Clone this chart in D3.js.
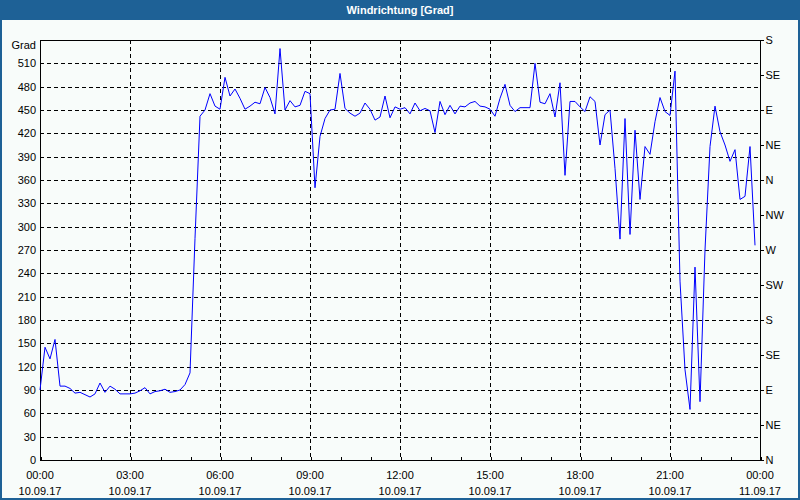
<!DOCTYPE html>
<html><head><meta charset="utf-8">
<script src="https://cdn.jsdelivr.net/npm/d3@7/dist/d3.min.js"></script>
<style>
html,body{margin:0;padding:0;background:#f8fcfa;}
svg{display:block;}
text{font-family:"Liberation Sans",Arial,sans-serif;font-size:11px;fill:#000;}
</style></head>
<body>
<svg id="c" width="800" height="500"></svg>
<script>
const title = "Windrichtung [Grad]";
const yUnit = "Grad";
const startTime = "2017-09-10T00:00:00";
const endTime = "2017-09-11T00:00:00";
const stepMinutes = 10;
const values = [90,145,130,155,95,95,92,86,87,84,81,85,99,87,95,91,85,85,85,86,89,93,85,88,89,91,87,88,90,97,
112,285,442,450,471,455,451,492,468,477,465,451,455,460,458,479,466,445,529,450,462,454,456,474,471,350,416,439,450,451,
497,452,446,442,446,459,451,437,441,468,440,454,451,453,445,459,449,452,449,421,461,444,456,445,455,454,459,461,455,454,
451,442,465,483,456,448,453,453,453,510,460,458,471,441,485,366,461,461,454,448,467,461,405,444,450,375,284,439,290,424,
335,403,393,435,466,448,443,500,230,116,65,248,75,270,403,455,422,405,384,399,335,339,403,276];
const yTicks = [0,30,60,90,120,150,180,210,240,270,300,330,360,390,420,450,480,510];
const dirTicks = [0,45,90,135,180,225,270,315,360,405,450,495,540];
const dirLabels = ["N","NE","E","SE","S","SW","W","NW","N","NE","E","SE","S"];
const yMax = 540;

const svg = d3.select("#c");
const W = 800, H = 500;
const m = {l:40, r:40, t:40, b:40};
const blue = "#1e6196";

// frame
svg.append("rect").attr("x",0).attr("y",0).attr("width",W).attr("height",H).attr("fill",blue);
svg.append("rect").attr("x",2).attr("y",20).attr("width",W-4).attr("height",H-22).attr("fill","#f8fcfa");
svg.append("text").attr("x",W/2).attr("y",14).attr("text-anchor","middle")
  .style("fill","#fff").style("font-weight","bold").text(title);

const parse = d3.isoParse;
const t0 = parse(startTime), t1 = parse(endTime);
const data = values.map((v,i)=>({t:new Date(t0.getTime()+i*stepMinutes*60000), v}));

const x = d3.scaleTime().domain([t0,t1]).range([m.l, W-m.r]);
const y = d3.scaleLinear().domain([0,yMax]).range([H-m.b, m.t]);

// grid
const g = svg.append("g").attr("shape-rendering","crispEdges");
g.selectAll(".hg").data(yTicks.filter(d=>d>0)).join("line")
  .attr("x1",m.l).attr("x2",W-m.r).attr("y1",d=>Math.round(y(d))+0.5).attr("y2",d=>Math.round(y(d))+0.5)
  .attr("stroke","#000").attr("stroke-dasharray","4,3");
const vTicks = d3.timeHour.every(3).range(t0, t1).filter(d=>+d>+t0);
g.selectAll(".vg").data(vTicks).join("line")
  .attr("x1",d=>Math.round(x(d))+0.5).attr("x2",d=>Math.round(x(d))+0.5).attr("y1",m.t).attr("y2",H-m.b)
  .attr("stroke","#000").attr("stroke-dasharray","4,3");

// axes
const yAxis = d3.axisLeft(y).tickValues(yTicks).tickSize(0).tickPadding(4);
const ya = svg.append("g").attr("transform",`translate(${m.l},0)`).call(yAxis);
ya.select(".domain").remove();
ya.selectAll("text").style("font-size","11px");

const rAxis = d3.axisRight(y).tickValues(dirTicks).tickSize(3).tickPadding(2)
  .tickFormat((d,i)=>dirLabels[i]);
const ra = svg.append("g").attr("transform",`translate(${W-m.r+0.5},0)`).attr("shape-rendering","crispEdges").call(rAxis);
ra.select(".domain").remove();
ra.selectAll("text").style("font-size","11px");

const xAxis = d3.axisBottom(x).ticks(d3.timeHour.every(1)).tickSize(-4).tickFormat("");
const xa = svg.append("g").attr("transform",`translate(0.5,${H-m.b+0.5})`).attr("shape-rendering","crispEdges").call(xAxis);
xa.select(".domain").remove();
const labTicks = d3.timeHour.every(3).range(t0, d3.timeMinute.offset(t1,1));
const fT = d3.timeFormat("%H:%M"), fD = d3.timeFormat("%d.%m.%y");
const lab = svg.append("g");
lab.selectAll(".lt").data(labTicks).join("text").attr("x",d=>x(d)).attr("y",H-m.b+19)
  .attr("text-anchor","middle").text(fT);
lab.selectAll(".ld").data(labTicks).join("text").attr("x",d=>x(d)).attr("y",H-m.b+35)
  .attr("text-anchor","middle").text(fD);

svg.append("text").attr("x",m.l-4).attr("y",m.t+9).attr("text-anchor","end").text(yUnit);

// plot border
svg.append("rect").attr("x",m.l+0.5).attr("y",m.t+0.5).attr("width",W-m.l-m.r).attr("height",H-m.t-m.b)
  .attr("fill","none").attr("stroke","#000").attr("shape-rendering","crispEdges");

// series
const line = d3.line().x(d=>x(d.t)).y(d=>y(d.v));
svg.append("path").datum(data).attr("d",line).attr("fill","none").attr("stroke","#0000ff").attr("stroke-width",1);
</script>
</body></html>
